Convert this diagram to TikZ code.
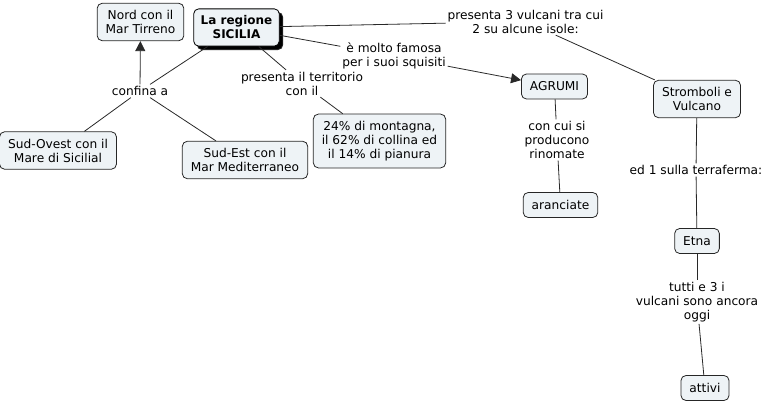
\documentclass[tikz,border=0pt]{standalone}
\usepackage{fontspec}
\setmainfont{DejaVu Sans}
\usetikzlibrary{arrows.meta, shadows}
\definecolor{conceptfill}{RGB}{238,243,246}
\definecolor{linkline}{RGB}{40,40,40}

\begin{document}
\begin{tikzpicture}[x=1pt, y=-1pt, >={Triangle[length=10pt, width=10pt]},
        concept/.style={draw=black!85, fill=conceptfill, rounded corners=5pt, align=center,
            inner xsep=8.5pt, inner ysep=7pt, minimum height=25pt, font=\fontsize{12.2}{14}\selectfont},
        link/.style={align=center, inner sep=1.5pt, font=\fontsize{12.2}{14}\selectfont},
        every path/.style={draw=linkline, line width=0.8pt}]
        \useasboundingbox[draw=none] (0,0) rectangle (766,403);
        
        % Main concept
        \node[concept, draw=black, inner xsep=7pt, font=\fontsize{12}{14}\selectfont\bfseries,
            drop shadow={shadow xshift=3.5pt, shadow yshift=-3.5pt, fill=black, opacity=1}]
            (sicilia) at (236.5,27.5) {La regione\\SICILIA};
        
        % Borders
        \node[link] (confina) at (140,91) {confina a};
        \node[concept] (nord) at (140.5,22) {Nord con il\\Mar Tirreno};
        \node[concept] (sudovest) at (58,150.5) {Sud-Ovest con il\\Mare di Sicilial};
        \node[concept] (sudest) at (245,160) {Sud-Est con il\\Mar Mediterraneo};
        
        % Territory
        \node[link] (territorio) at (302,83.5) {presenta il territorio\\con il};
        \node[concept] (percento) at (379.5,141) {24\% di montagna,\\il 62\% di collina ed\\il 14\% di pianura};
        
        % Agrumi
        \node[link] (famosa) at (394,56) {è molto famosa\\per i suoi squisiti};
        \node[concept] (agrumi) at (554.5,86.5) {AGRUMI};
        \node[link] (producono) at (557,140) {con cui si\\producono\\rinomate};
        \node[concept] (aranciate) at (560.5,205) {aranciate};
        
        % Vulcani
        \node[link] (vulcani) at (525.5,21.5) {presenta 3 vulcani tra cui\\2 su alcune isole:};
        \node[concept] (stromboli) at (697,99) {Stromboli e\\Vulcano};
        \node[link] (terraferma) at (696,170) {ed 1 sulla terraferma:};
        \node[concept] (etna) at (697,241) {Etna};
        \node[link] (tutti) at (697,302) {tutti e 3 i\\vulcani sono ancora\\oggi};
        \node[concept] (attivi) at (705,388) {attivi};
        
        % Connectors
        \draw (sicilia) -- (confina);
        \draw[->] (confina) -- (nord);
        \draw (confina) -- (sudovest);
        \draw (confina) -- (sudest);
        \draw (sicilia) -- (territorio);
        \draw (territorio) -- (percento);
        \draw (sicilia) -- (famosa);
        \draw[->] (famosa) -- (agrumi);
        \draw (agrumi) -- (producono);
        \draw (producono) -- (aranciate);
        \draw (sicilia) -- (vulcani);
        \draw (vulcani) -- (stromboli);
        \draw (stromboli) -- (terraferma);
        \draw (terraferma) -- (etna);
        \draw (etna) -- (tutti);
        \draw (tutti) -- (attivi);
    \end{tikzpicture}
\end{document}
